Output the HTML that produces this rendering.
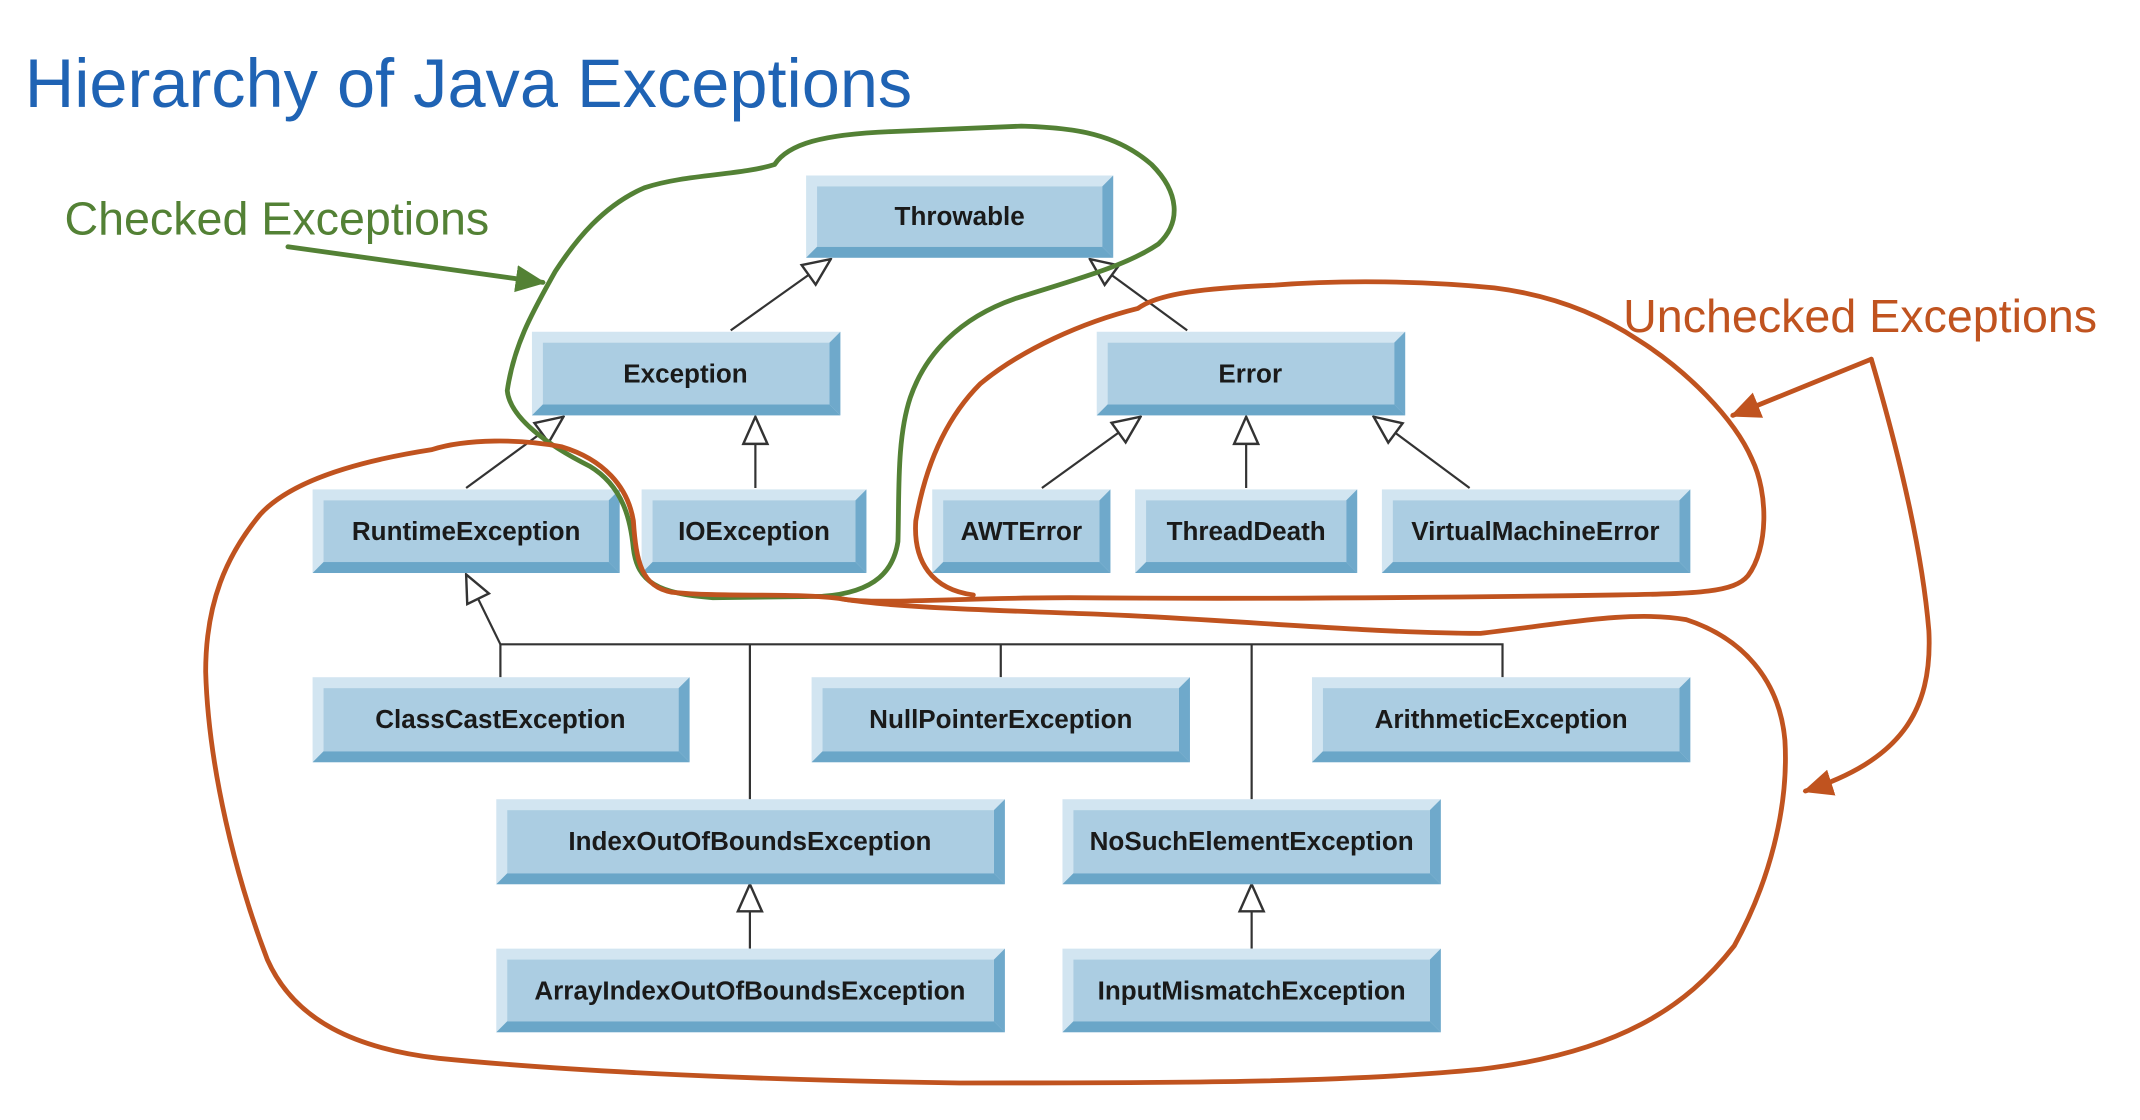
<!DOCTYPE html>
<html><head><meta charset="utf-8"><style>
html,body{margin:0;padding:0;background:#fff;width:2140px;height:1120px;overflow:hidden}
svg{display:block}
.lbl{font-family:"Liberation Sans",sans-serif;font-weight:bold;font-size:19px;fill:#1a1a1a;text-anchor:middle}
.o{fill:#d2e5f1}.r{fill:#6fa9cb}.b{fill:#6aa6c8}.f{fill:#abcde2}
</style></head><body>
<svg width="2140" height="1120" viewBox="0 0 1561 817" xmlns="http://www.w3.org/2000/svg">
<defs>
<marker id="tri" viewBox="0 0 20 20" refX="19" refY="10" markerWidth="22" markerHeight="22" markerUnits="userSpaceOnUse" orient="auto">
<path d="M1,2 L19,10 L1,18 Z" fill="#fff" stroke="#333" stroke-width="1.6"/>
</marker>
<marker id="ga" viewBox="0 0 20 20" refX="18" refY="10" markerWidth="22" markerHeight="22" markerUnits="userSpaceOnUse" orient="auto">
<path d="M0,1 L20,10 L0,19 Z" fill="#538135"/>
</marker>
<marker id="oa" viewBox="0 0 20 20" refX="18" refY="10" markerWidth="22" markerHeight="22" markerUnits="userSpaceOnUse" orient="auto">
<path d="M0,1 L20,10 L0,19 Z" fill="#c0531f"/>
</marker>
</defs>
<text x="18" y="78" font-family="Liberation Sans,sans-serif" font-size="50" fill="#1f63b4">Hierarchy of Java Exceptions</text>
<text x="47" y="171" font-family="Liberation Sans,sans-serif" font-size="34" fill="#538135">Checked Exceptions</text>
<text x="1184" y="242" font-family="Liberation Sans,sans-serif" font-size="34" fill="#c0531f">Unchecked Exceptions</text>

<g stroke="#333" stroke-width="1.6" fill="none">
<line x1="533" y1="241" x2="606" y2="189" marker-end="url(#tri)"/>
<line x1="866" y1="241" x2="795" y2="189" marker-end="url(#tri)"/>
<line x1="340" y1="356" x2="411" y2="304" marker-end="url(#tri)"/>
<line x1="551" y1="356" x2="551" y2="304" marker-end="url(#tri)"/>
<line x1="760" y1="356" x2="832" y2="304" marker-end="url(#tri)"/>
<line x1="909" y1="356" x2="909" y2="304" marker-end="url(#tri)"/>
<line x1="1072" y1="356" x2="1002" y2="304" marker-end="url(#tri)"/>
<line x1="365" y1="470" x2="340" y2="419" marker-end="url(#tri)"/>
<polyline points="365,494 365,470 1096,470 1096,494"/>
<line x1="547" y1="470" x2="547" y2="583"/>
<line x1="730" y1="470" x2="730" y2="494"/>
<line x1="913" y1="470" x2="913" y2="583"/>
<line x1="547" y1="692" x2="547" y2="645" marker-end="url(#tri)"/>
<line x1="913" y1="692" x2="913" y2="645" marker-end="url(#tri)"/>
</g>

<!-- Throwable -->
<rect class="o" x="588" y="128" width="224" height="60"/>
<polygon class="r" points="804,136 812,128 812,188 804,180"/>
<polygon class="b" points="596,180 804,180 812,188 588,188"/>
<rect class="f" x="596" y="136" width="208" height="44"/>
<text class="lbl" x="700" y="164">Throwable</text>
<!-- Exception -->
<rect class="o" x="388" y="242" width="225" height="61"/>
<polygon class="r" points="605,250 613,242 613,303 605,295"/>
<polygon class="b" points="396,295 605,295 613,303 388,303"/>
<rect class="f" x="396" y="250" width="209" height="45"/>
<text class="lbl" x="500" y="279">Exception</text>
<!-- Error -->
<rect class="o" x="800" y="242" width="225" height="61"/>
<polygon class="r" points="1017,250 1025,242 1025,303 1017,295"/>
<polygon class="b" points="808,295 1017,295 1025,303 800,303"/>
<rect class="f" x="808" y="250" width="209" height="45"/>
<text class="lbl" x="912" y="279">Error</text>
<!-- Row 3 -->
<rect class="o" x="228" y="357" width="224" height="61"/>
<polygon class="r" points="444,365 452,357 452,418 444,410"/>
<polygon class="b" points="236,410 444,410 452,418 228,418"/>
<rect class="f" x="236" y="365" width="208" height="45"/>
<text class="lbl" x="340" y="394">RuntimeException</text>

<rect class="o" x="468" y="357" width="164" height="61"/>
<polygon class="r" points="624,365 632,357 632,418 624,410"/>
<polygon class="b" points="476,410 624,410 632,418 468,418"/>
<rect class="f" x="476" y="365" width="148" height="45"/>
<text class="lbl" x="550" y="394">IOException</text>

<rect class="o" x="680" y="357" width="130" height="61"/>
<polygon class="r" points="802,365 810,357 810,418 802,410"/>
<polygon class="b" points="688,410 802,410 810,418 680,418"/>
<rect class="f" x="688" y="365" width="114" height="45"/>
<text class="lbl" x="745" y="394">AWTError</text>

<rect class="o" x="828" y="357" width="162" height="61"/>
<polygon class="r" points="982,365 990,357 990,418 982,410"/>
<polygon class="b" points="836,410 982,410 990,418 828,418"/>
<rect class="f" x="836" y="365" width="146" height="45"/>
<text class="lbl" x="909" y="394">ThreadDeath</text>

<rect class="o" x="1008" y="357" width="225" height="61"/>
<polygon class="r" points="1225,365 1233,357 1233,418 1225,410"/>
<polygon class="b" points="1016,410 1225,410 1233,418 1008,418"/>
<rect class="f" x="1016" y="365" width="209" height="45"/>
<text class="lbl" x="1120" y="394">VirtualMachineError</text>
<!-- Row 4 -->
<rect class="o" x="228" y="494" width="275" height="62"/>
<polygon class="r" points="495,502 503,494 503,556 495,548"/>
<polygon class="b" points="236,548 495,548 503,556 228,556"/>
<rect class="f" x="236" y="502" width="259" height="46"/>
<text class="lbl" x="365" y="531">ClassCastException</text>

<rect class="o" x="592" y="494" width="276" height="62"/>
<polygon class="r" points="860,502 868,494 868,556 860,548"/>
<polygon class="b" points="600,548 860,548 868,556 592,556"/>
<rect class="f" x="600" y="502" width="260" height="46"/>
<text class="lbl" x="730" y="531">NullPointerException</text>

<rect class="o" x="957" y="494" width="276" height="62"/>
<polygon class="r" points="1225,502 1233,494 1233,556 1225,548"/>
<polygon class="b" points="965,548 1225,548 1233,556 957,556"/>
<rect class="f" x="965" y="502" width="260" height="46"/>
<text class="lbl" x="1095" y="531">ArithmeticException</text>
<!-- Row 5 -->
<rect class="o" x="362" y="583" width="371" height="62"/>
<polygon class="r" points="725,591 733,583 733,645 725,637"/>
<polygon class="b" points="370,637 725,637 733,645 362,645"/>
<rect class="f" x="370" y="591" width="355" height="46"/>
<text class="lbl" x="547" y="620">IndexOutOfBoundsException</text>

<rect class="o" x="775" y="583" width="276" height="62"/>
<polygon class="r" points="1043,591 1051,583 1051,645 1043,637"/>
<polygon class="b" points="783,637 1043,637 1051,645 775,645"/>
<rect class="f" x="783" y="591" width="260" height="46"/>
<text class="lbl" x="913" y="620">NoSuchElementException</text>
<!-- Row 6 -->
<rect class="o" x="362" y="692" width="371" height="61"/>
<polygon class="r" points="725,700 733,692 733,753 725,745"/>
<polygon class="b" points="370,745 725,745 733,753 362,753"/>
<rect class="f" x="370" y="700" width="355" height="45"/>
<text class="lbl" x="547" y="729">ArrayIndexOutOfBoundsException</text>

<rect class="o" x="775" y="692" width="276" height="61"/>
<polygon class="r" points="1043,700 1051,692 1051,753 1043,745"/>
<polygon class="b" points="783,745 1043,745 1051,753 775,753"/>
<rect class="f" x="783" y="700" width="260" height="45"/>
<text class="lbl" x="913" y="729">InputMismatchException</text>

<g fill="none" stroke-width="3.5" stroke-linejoin="round" stroke-linecap="round">
<path stroke="#538135" d="M370,285 C372,305 400,325 430,340 C455,355 460,380 462,400 C465,425 480,433 520,436 L600,435 C640,432 652,415 655,395 C656,360 654,320 664,290 C675,258 700,232 740,218 C780,205 820,195 845,178 C862,162 860,140 840,120 C815,98 785,93 745,92 L650,96 C600,98 575,105 565,120 C540,128 500,127 470,137 C440,150 420,175 405,198 C390,225 375,250 370,285 Z"/>
<line x1="210" y1="180" x2="396" y2="206" stroke="#538135" marker-end="url(#ga)"/>
<path stroke="#c0531f" d="M315,328 C270,335 215,348 190,375 C165,405 150,440 150,490 C152,560 172,640 195,700 C215,745 260,765 320,772 C420,782 560,788 700,790 C850,790 980,790 1080,780 C1180,768 1230,735 1265,690 C1290,645 1305,590 1302,540 C1298,495 1270,465 1230,452 C1190,445 1140,455 1080,462 C1000,462 900,452 800,448 C720,445 650,443 615,437 C580,432 530,436 490,432 C468,428 464,410 462,380 C458,355 440,335 410,326 C380,320 340,320 315,328 Z"/>
<path stroke="#c0531f" d="M615,437 C640,441 700,436 780,436 C900,437 1050,436 1180,434 C1240,433 1265,432 1275,420 C1290,400 1290,360 1278,335 C1265,305 1230,270 1195,248 C1165,228 1130,215 1090,210 C1040,205 980,204 930,208 C880,210 845,214 830,225 C790,235 745,255 715,280 C690,305 675,340 668,380 C666,410 680,430 710,434"/>
<line x1="1365" y1="262" x2="1264" y2="303" stroke="#c0531f" marker-end="url(#oa)"/>
<path stroke="#c0531f" d="M1365,262 C1385,330 1402,400 1407,460 C1410,520 1385,555 1317,577" marker-end="url(#oa)"/>
</g>
</svg>
</body></html>
